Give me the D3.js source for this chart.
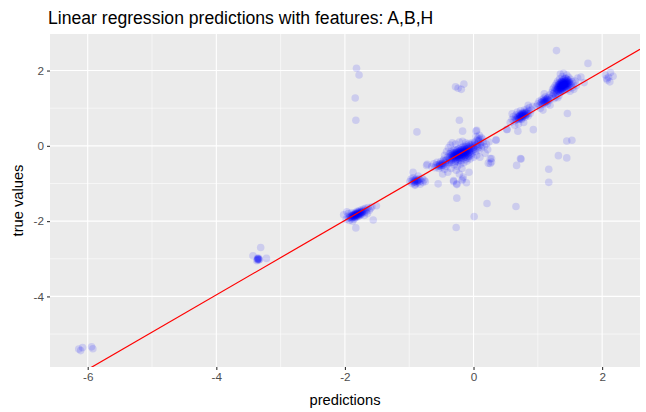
<!DOCTYPE html>
<html><head><meta charset="utf-8">
<script src="https://cdn.jsdelivr.net/npm/d3@7"></script>
<style>body{margin:0;background:#fff}svg{display:block}</style>
</head><body>
<svg id="chart" width="646" height="412"></svg>
<script>
// ---- data: [prediction, true value] ----
const clusterFar = [[-6.14,-5.40],[-6.11,-5.44],[-6.08,-5.36],[-5.94,-5.34],[-5.92,-5.39]];
const clusterM3 = [[-3.31,-2.70],[-3.43,-2.92],[-3.35,-3.01],[-3.36,-3.03],[-3.34,-2.99],[-3.37,-3.05],[-3.33,-3.02],[-3.36,-2.98],[-3.22,-2.99],[-3.35,-3.00],[-3.34,-3.03],[-3.36,-3.01]];
const clusterM2 = [[-2.02,-1.83],[-1.98,-1.95],[-1.96,-1.88],[-1.95,-1.80],[-1.94,-1.92],[-1.93,-1.98],[-1.92,-1.85],[-1.91,-1.89],[-1.90,-1.94],[-1.90,-1.78],[-1.89,-1.86],[-1.88,-1.91],[-1.87,-1.83],[-1.87,-1.88],[-1.86,-1.79],[-1.86,-1.95],[-1.85,-1.85],[-1.85,-1.90],[-1.84,-1.82],[-1.84,-1.87],[-1.83,-1.77],[-1.83,-1.84],[-1.82,-1.89],[-1.82,-1.81],[-1.81,-1.86],[-1.81,-1.74],[-1.80,-1.83],[-1.80,-1.79],[-1.79,-1.88],[-1.79,-1.76],[-1.78,-1.82],[-1.77,-1.85],[-1.77,-1.72],[-1.76,-1.79],[-1.76,-1.75],[-1.75,-1.83],[-1.74,-1.70],[-1.74,-1.77],[-1.73,-1.80],[-1.72,-1.74],[-1.71,-1.68],[-1.70,-1.77],[-1.69,-1.72],[-1.68,-1.66],[-1.67,-1.75],[-1.66,-1.70],[-1.64,-1.64],[-1.62,-1.71],[-1.60,-1.66],[-1.58,-1.62],[-1.56,-1.97],[-1.51,-1.59],[-1.83,-2.18],[-1.97,-1.75],[-1.88,-2.00],[-1.70,-1.85],[-1.65,-1.80],
  [-1.90,-1.87],[-1.89,-1.90],[-1.88,-1.84],[-1.87,-1.86],[-1.86,-1.88],[-1.85,-1.82],[-1.84,-1.85],[-1.83,-1.80],[-1.82,-1.84],[-1.81,-1.80],[-1.80,-1.86],[-1.79,-1.81],[-1.78,-1.78],[-1.77,-1.80],[-1.76,-1.82],[-1.75,-1.77],[-1.74,-1.74],[-1.73,-1.76],[-1.86,-1.84],[-1.84,-1.91],[-1.92,-1.90],[-1.80,-1.76],
  [-1.82,2.06],[-1.78,1.88],[-1.84,1.27],[-1.83,0.68]];
const clusterM1 = [[-0.99,-0.95],[-0.97,-0.88],[-0.96,-1.00],[-0.95,-0.92],[-0.94,-0.85],[-0.93,-0.97],[-0.92,-0.90],[-0.91,-1.03],[-0.90,-0.94],[-0.89,-0.87],[-0.88,-0.99],[-0.87,-0.92],[-0.86,-0.80],[-0.85,-0.96],[-0.84,-0.89],[-0.83,-1.02],[-0.82,-0.93],[-0.80,-0.86],[-0.79,-0.97],[-0.77,-0.91],[-0.94,-0.70],[-0.75,-0.95],[-0.91,-1.05],
  [-0.92,-0.94],[-0.90,-0.90],[-0.88,-0.93],[-0.86,-0.90],[-0.91,-0.97],[-0.87,-0.95]];
const clusterHalf = [[-0.72,-0.49],[-0.65,-0.55],[-0.62,-0.48],[-0.60,-0.58],[-0.58,-0.51],[-0.57,-0.44],[-0.55,-0.55],[-0.54,-0.60],[-0.53,-0.49],[-0.52,-0.52],[-0.51,-0.42],[-0.50,-0.57],[-0.49,-0.47],[-0.48,-0.53],[-0.47,-0.40],[-0.46,-0.50],[-0.45,-0.62],[-0.44,-0.45],[-0.43,-0.55],[-0.42,-0.38],[-0.40,-0.48],[-0.55,-1.01],[-0.73,-0.52],
  [-0.55,-0.50],[-0.52,-0.48],[-0.50,-0.52],[-0.48,-0.46],[-0.53,-0.54],[-0.44,-0.40],[-0.41,-0.44],[-0.38,-0.45],[-0.46,-0.36]];
const clusterZero = [[-0.40,-0.30],[-0.38,-0.22],[-0.37,-0.35],[-0.36,-0.27],[-0.35,-0.15],[-0.35,-0.40],[-0.34,-0.31],[-0.33,-0.20],[-0.33,-0.25],[-0.32,-0.36],[-0.31,-0.12],[-0.31,-0.28],[-0.30,-0.22],[-0.30,-0.33],[-0.29,-0.18],[-0.29,-0.26],[-0.28,-0.41],[-0.28,-0.10],[-0.27,-0.24],[-0.27,-0.30],[-0.26,-0.16],[-0.26,-0.21],[-0.25,-0.35],[-0.25,-0.27],[-0.24,-0.08],[-0.24,-0.19],[-0.23,-0.23],[-0.23,-0.31],[-0.22,-0.14],[-0.22,-0.26],[-0.21,-0.20],[-0.21,-0.38],[-0.20,-0.11],[-0.20,-0.24],[-0.19,-0.17],[-0.19,-0.29],[-0.18,-0.21],[-0.18,-0.05],[-0.17,-0.25],[-0.17,-0.13],[-0.16,-0.33],[-0.16,-0.18],[-0.15,-0.22],[-0.15,-0.09],[-0.14,-0.27],[-0.14,-0.15],[-0.13,-0.19],[-0.13,-0.02],[-0.12,-0.24],[-0.12,-0.11],[-0.11,-0.30],[-0.11,-0.16],[-0.10,-0.07],[-0.10,-0.21],[-0.09,-0.13],[-0.08,-0.26],[-0.08,-0.01],[-0.07,-0.18],[-0.06,-0.10],[-0.05,-0.22],[-0.05,0.03],[-0.04,-0.14],[-0.03,-0.06],[-0.02,-0.19],[-0.01,0.01],[0.00,-0.10],[0.01,-0.03],[0.02,0.06],[0.03,-0.15],[0.04,0.02],
  [-0.32,-0.29],[-0.31,-0.24],[-0.30,-0.27],[-0.29,-0.31],[-0.28,-0.22],[-0.28,-0.27],[-0.27,-0.19],[-0.26,-0.26],[-0.26,-0.31],[-0.25,-0.22],[-0.25,-0.17],[-0.24,-0.27],[-0.24,-0.24],[-0.23,-0.20],[-0.23,-0.15],[-0.22,-0.22],[-0.22,-0.30],[-0.21,-0.17],[-0.21,-0.25],[-0.20,-0.19],[-0.20,-0.15],[-0.19,-0.23],[-0.19,-0.10],[-0.18,-0.17],[-0.18,-0.27],[-0.17,-0.20],[-0.17,-0.09],[-0.16,-0.15],[-0.16,-0.24],[-0.15,-0.12],[-0.15,-0.18],[-0.14,-0.21],[-0.14,-0.06],[-0.13,-0.15],[-0.13,-0.25],[-0.12,-0.09],[-0.12,-0.18],[-0.11,-0.12],[-0.10,-0.16],[-0.10,-0.03],[-0.09,-0.20],[-0.09,-0.08],[-0.08,-0.13],[-0.07,-0.05],[-0.06,-0.16],[-0.05,-0.08],[-0.04,-0.02],[-0.03,-0.12],[-0.02,0.04],[0.00,-0.05],[-0.38,-0.32],[-0.36,-0.38],[-0.34,-0.26],[-0.33,-0.33],[-0.27,-0.36],[-0.23,-0.35],[-0.20,-0.32],[-0.14,-0.30],[-0.07,-0.28],[-0.03,-0.24],[0.02,-0.08],[0.06,-0.02],[-0.11,0.02],[-0.16,-0.02],[-0.21,-0.06],[-0.26,-0.12],[-0.31,-0.18],[-0.36,-0.20],
  [-0.45,-0.25],[-0.42,-0.15],[-0.39,-0.05],[-0.36,0.02],[-0.33,0.08],[-0.28,0.05],[-0.22,0.10],[-0.17,0.12],[-0.12,0.08],[-0.30,-0.50],[-0.25,-0.55],[-0.20,-0.48],[-0.15,-0.45],[-0.10,-0.40],[-0.05,-0.35],[0.00,-0.30],[0.05,-0.25],[0.08,-0.12],[0.10,-0.30],[0.12,-0.05],[-0.35,-0.60],[-0.27,-0.65],[-0.18,-0.60],[-0.22,-0.75],[-0.16,-0.83],[-0.18,-0.92],[-0.31,-0.92],[-0.26,-1.03],[-0.11,-0.98],[-0.07,-0.70],[-0.26,-1.01],[-0.31,-0.95],[-0.17,-0.88],[-0.26,-1.39],[-0.27,-2.17],[0.01,-1.88],[0.21,-1.53],[-0.22,0.68],[-0.17,0.39],[0.04,0.39],[0.05,0.41],[-0.88,0.37],[-0.28,1.57],[-0.24,1.53],[-0.19,1.50],[-0.15,1.64],[-0.48,-0.75],[-0.40,-0.70],
  [-0.24,-0.42],[-0.19,-0.40],[-0.12,-0.36],[-0.29,-0.45],[-0.09,-0.33],[-0.34,-0.44],[0.07,-0.06],[0.10,0.02],[-0.07,0.06],[-0.02,0.09],
  [0.02,0.10],[0.05,0.15],[0.07,0.20],[0.08,0.12],[0.10,0.18],[0.06,0.05],[0.12,0.22],[0.04,0.25],[0.15,0.10],[0.09,0.28],[0.13,0.00],[0.08,0.15],[0.11,0.08],[0.14,0.18],
  [0.26,-0.47],[0.28,-0.34],[0.26,-0.34],[0.28,-0.43],[0.23,-0.46],[0.35,0.15],[0.35,0.16],[0.18,-0.20],[0.22,-0.10],[0.20,0.05],[0.17,-0.02],[0.24,0.10]];
const clusterP075 = [[0.57,0.62],[0.60,0.70],[0.62,0.78],[0.63,0.66],[0.65,0.74],[0.66,0.82],[0.67,0.69],[0.68,0.90],[0.69,0.77],[0.70,0.72],[0.71,0.85],[0.72,0.80],[0.73,0.75],[0.73,0.93],[0.74,0.83],[0.75,0.70],[0.76,0.88],[0.77,0.79],[0.78,0.84],[0.79,0.95],[0.80,0.76],[0.81,0.87],[0.82,0.82],[0.83,0.98],[0.84,0.90],[0.85,0.79],[0.86,0.93],[0.87,1.02],[0.88,0.86],[0.90,0.95],[0.92,1.05],[0.70,0.58],[0.78,0.62],[0.64,0.55],[0.85,1.08],[0.60,0.85],[0.93,0.43],[0.52,0.43],[0.52,0.44],[0.69,0.39],[0.67,-0.52],[0.73,-0.34],[0.74,-0.35],[0.66,-1.61],[0.77,0.86],[0.75,0.81],[0.72,0.74],
  [0.70,0.76],[0.71,0.78],[0.72,0.82],[0.73,0.79],[0.74,0.77],[0.75,0.85],[0.76,0.80],[0.77,0.83],[0.78,0.79],[0.79,0.86],[0.80,0.82],[0.81,0.80],[0.74,0.72],[0.76,0.75],[0.79,0.90],[0.82,0.89],[0.68,0.73],[0.66,0.70],[0.84,0.85],[0.71,0.70]];
const clusterP11 = [[0.98,1.05],[1.00,1.12],[1.02,1.18],[1.03,1.08],[1.05,1.15],[1.06,1.22],[1.07,1.10],[1.08,1.19],[1.09,1.26],[1.10,1.14],[1.11,1.21],[1.12,1.30],[1.13,1.17],[1.14,1.24],[1.15,1.11],[1.16,1.28],[1.17,1.20],[1.18,1.35],[1.20,1.25],[1.22,1.31],[1.04,1.00],[1.10,1.38],[1.19,1.08],[1.25,1.40],[1.08,0.95],[1.17,-0.62],[1.17,-0.97],
  [1.06,1.16],[1.08,1.13],[1.10,1.20],[1.12,1.18],[1.13,1.23],[1.14,1.19],[1.15,1.26],[1.11,1.15],[1.09,1.17],[1.16,1.22]];
const clusterP14 = [[1.22,1.42],[1.23,1.50],[1.24,1.38],[1.25,1.55],[1.26,1.46],[1.27,1.60],[1.27,1.35],[1.28,1.52],[1.29,1.44],[1.29,1.66],[1.30,1.58],[1.30,1.40],[1.31,1.49],[1.31,1.72],[1.32,1.55],[1.32,1.62],[1.33,1.45],[1.33,1.68],[1.34,1.52],[1.34,1.78],[1.35,1.59],[1.35,1.42],[1.36,1.65],[1.36,1.55],[1.37,1.48],[1.37,1.71],[1.38,1.60],[1.38,1.84],[1.39,1.53],[1.39,1.66],[1.40,1.57],[1.40,1.75],[1.41,1.47],[1.41,1.63],[1.42,1.69],[1.42,1.55],[1.43,1.80],[1.43,1.60],[1.44,1.51],[1.44,1.72],[1.45,1.64],[1.45,1.88],[1.46,1.58],[1.46,1.76],[1.47,1.68],[1.47,1.50],[1.48,1.62],[1.48,1.82],[1.49,1.71],[1.50,1.57],[1.50,1.66],[1.51,1.77],[1.52,1.61],[1.53,1.70],[1.54,1.55],[1.55,1.65],[1.35,1.91],[1.40,1.93],[1.28,1.30],[1.33,1.34],[1.36,1.50],[1.38,1.45],[1.39,1.70],[1.41,1.58],[1.42,1.62],[1.37,1.62],[1.34,1.60],[1.40,1.66],[1.43,1.66],[1.36,1.58],[1.31,1.28],[1.25,1.25],[1.58,1.72],[1.60,1.60],[1.62,1.80],[1.67,1.83],[1.72,1.68],[1.78,2.19],[1.29,2.53],[1.46,0.86],[1.45,0.13],[1.53,0.15],[1.32,-0.26],[1.45,-0.32],[1.56,1.50],[1.50,1.45],
  [1.30,1.50],[1.31,1.55],[1.32,1.47],[1.33,1.58],[1.34,1.50],[1.34,1.64],[1.35,1.53],[1.35,1.67],[1.36,1.61],[1.36,1.46],[1.37,1.55],[1.37,1.66],[1.38,1.52],[1.38,1.69],[1.39,1.59],[1.39,1.62],[1.40,1.54],[1.40,1.70],[1.41,1.61],[1.41,1.67],[1.42,1.58],[1.42,1.73],[1.43,1.63],[1.43,1.55],[1.44,1.67],[1.44,1.60],[1.45,1.70],[1.45,1.57],[1.46,1.66],[1.46,1.72],[1.47,1.62],[1.48,1.68],[1.49,1.64],[1.38,1.74],[1.36,1.70],[1.33,1.62],[1.32,1.52],[1.40,1.62],[1.41,1.78],[1.44,1.78],[1.47,1.74],[1.35,1.48],[1.29,1.48],[1.37,1.58],[1.42,1.65]];
const clusterP21 = [[2.05,1.88],[2.08,1.75],[2.12,1.70],[2.13,1.95],[2.17,1.85],[2.07,1.79],[2.10,1.82]];

const xTicks = [-6,-4,-2,0,2];
const yTicks = [2,0,-2,-4];
const xMinor = [-5,-3,-1,1];
const yMinor = [1,-1,-3,-5];
const fitLine = {intercept: 0.0, slope: 0.99};
const titleText = "Linear regression predictions with features: A,B,H";
const xLabel = "predictions";
const yLabel = "true values";

const points = [].concat(clusterFar, clusterM3, clusterM2, clusterM1, clusterHalf, clusterZero, clusterP075, clusterP11, clusterP14, clusterP21);

// ---- layout ----
const svg = d3.select("#chart");
const L = 50, R = 640, T = 34, B = 367;
const x = d3.scaleLinear().domain([-6.571, 2.589]).range([51, R]);
const y = d3.scaleLinear().domain([-5.875, 2.971]).range([B, T]);
const font = "Liberation Sans, Arial, Helvetica, sans-serif";

svg.append("rect").attr("x", L).attr("y", T).attr("width", R - L).attr("height", B - T).attr("fill", "#EBEBEB");

const grid = svg.append("g");
xMinor.forEach(v => grid.append("line").attr("x1", x(v)).attr("x2", x(v)).attr("y1", T).attr("y2", B).attr("stroke", "#fff").attr("stroke-width", 0.55));
yMinor.forEach(v => grid.append("line").attr("y1", y(v)).attr("y2", y(v)).attr("x1", L).attr("x2", R).attr("stroke", "#fff").attr("stroke-width", 0.55));
xTicks.forEach(v => grid.append("line").attr("x1", x(v)).attr("x2", x(v)).attr("y1", T).attr("y2", B).attr("stroke", "#fff").attr("stroke-width", 1.1));
yTicks.forEach(v => grid.append("line").attr("y1", y(v)).attr("y2", y(v)).attr("x1", L).attr("x2", R).attr("stroke", "#fff").attr("stroke-width", 1.1));

svg.append("clipPath").attr("id", "pclip").append("rect").attr("x", L).attr("y", T).attr("width", R - L).attr("height", B - T);

svg.append("g").attr("clip-path", "url(#pclip)")
  .selectAll("circle").data(points).join("circle")
  .attr("cx", d => x(d[0])).attr("cy", d => y(d[1])).attr("r", 3.8)
  .attr("fill", "blue").attr("fill-opacity", 0.13);

const [dx0, dx1] = x.domain();
svg.append("g").attr("clip-path", "url(#pclip)").append("line")
  .attr("x1", x(dx0)).attr("y1", y(fitLine.intercept + fitLine.slope * dx0))
  .attr("x2", x(dx1)).attr("y2", y(fitLine.intercept + fitLine.slope * dx1))
  .attr("stroke", "red").attr("stroke-width", 1.2);

// axes
const xAxis = d3.axisBottom(x).tickValues(xTicks).tickSize(3).tickPadding(3).tickFormat(d3.format("d"));
const yAxis = d3.axisLeft(y).tickValues(yTicks).tickSize(3).tickPadding(3).tickFormat(d3.format("d"));
const gx = svg.append("g").attr("transform", `translate(0,${B})`).call(xAxis);
const gy = svg.append("g").attr("transform", `translate(${L},0)`).call(yAxis);
[gx, gy].forEach(g => {
  g.select(".domain").remove();
  g.selectAll(".tick line").attr("stroke", "#333").attr("stroke-width", 1.1);
  g.selectAll(".tick text").attr("fill", "#4D4D4D").style("font-family", font).style("font-size", "11.7px");
});
gx.selectAll(".tick text").text(d => d < 0 ? "-" + Math.abs(d) : d);
gy.selectAll(".tick text").text(d => d < 0 ? "-" + Math.abs(d) : d);

svg.append("text").attr("x", (L + R) / 2).attr("y", 405).attr("text-anchor", "middle")
  .style("font-family", font).style("font-size", "14.7px").attr("fill", "#000").text(xLabel);
svg.append("text").attr("transform", `translate(23,${(T + B) / 2}) rotate(-90)`).attr("text-anchor", "middle")
  .style("font-family", font).style("font-size", "14.7px").attr("fill", "#000").text(yLabel);
svg.append("text").attr("x", 48).attr("y", 24).style("font-family", font).style("font-size", "17.6px")
  .attr("fill", "#000").text(titleText);
</script>
</body></html>
